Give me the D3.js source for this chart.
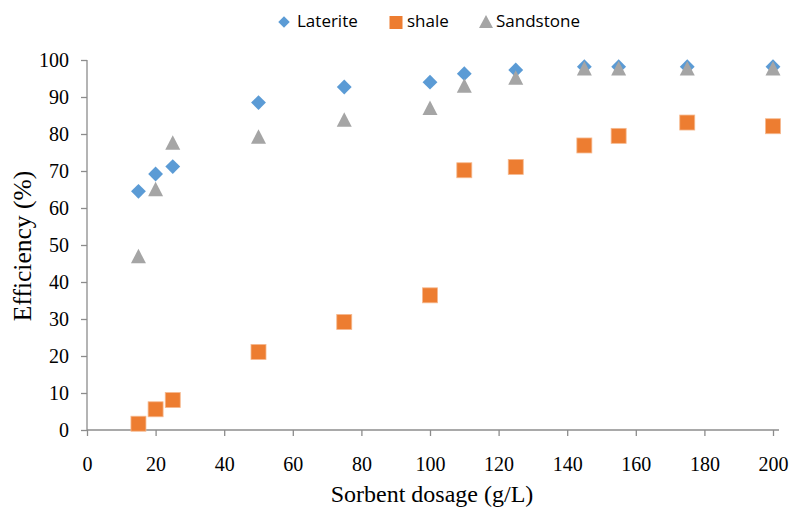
<!DOCTYPE html>
<html><head><meta charset="utf-8">
<script src="https://cdn.jsdelivr.net/npm/d3@7"></script>
<style>body{margin:0;background:#fff}</style>
</head><body>
<svg id="c" width="791" height="512"></svg>
<script>
const dosage = [15, 20, 25, 50, 75, 100, 110, 125, 145, 155, 175, 200];
const laterite = [64.5, 69.2, 71.2, 88.5, 92.7, 94.0, 96.3, 97.3, 98.2, 98.2, 98.2, 98.2];
const shale = [1.7, 5.6, 8.1, 21.1, 29.2, 36.4, 70.2, 71.1, 76.9, 79.5, 83.1, 82.1];
const sandstone = [46.8, 64.9, 77.5, 79.1, 83.7, 86.9, 92.9, 95.1, 97.6, 97.6, 97.6, 97.6];
const xTicks = [0, 20, 40, 60, 80, 100, 120, 140, 160, 180, 200];
const yTicks = [0, 10, 20, 30, 40, 50, 60, 70, 80, 90, 100];
const seriesNames = ["Laterite", "shale", "Sandstone"];
const colors = ["#5B9BD5", "#ED7D31", "#A5A5A5"];

const svg = d3.select("#c");
const x = d3.scaleLinear().domain([0, 200]).range([87, 773]);
const y = d3.scaleLinear().domain([0, 100]).range([430, 60]);
const axisColor = "#8c8c8c";
const serif = "Liberation Serif, Times New Roman, serif";

const xa = svg.append("g").attr("transform", "translate(0,430)")
  .call(d3.axisBottom(x).tickValues(xTicks).tickSize(6));
const ya = svg.append("g").attr("transform", "translate(87,0)")
  .call(d3.axisLeft(y).tickValues(yTicks).tickSize(6).tickPadding(12));
[xa, ya].forEach(a => {
  a.selectAll("path").attr("stroke", axisColor).attr("stroke-width", 1.3);
  a.selectAll("line").attr("stroke", axisColor).attr("stroke-width", 1.3);
  a.selectAll("text").attr("font-family", serif).attr("font-size", 20).attr("fill", "#000");
});
xa.selectAll("text").attr("dy", null).attr("y", 41);
ya.selectAll("text").attr("x", -18);
xa.select("path").attr("d", "M87,0H779");
ya.select("path").attr("d", "M0,430V60");

svg.append("text").attr("x", 432).attr("y", 502).attr("text-anchor", "middle")
  .attr("font-family", serif).attr("font-size", 24)
  .text("Sorbent dosage (g/L)");
svg.append("text").attr("transform", "translate(31,246) rotate(-90)").attr("text-anchor", "middle")
  .attr("font-family", serif).attr("font-size", 25.5)
  .text("Efficiency (%)");

const symDiamond = d3.symbol().type(d3.symbolSquare).size(110);
function drawSeries(vals, idx) {
  const g = svg.append("g");
  vals.forEach((v, i) => {
    const cx = x(dosage[i]), cy = y(v);
    if (idx === 0) {
      g.append("path").attr("d", symDiamond()).attr("fill", colors[0])
        .attr("transform", `translate(${cx},${cy}) rotate(45)`);
    } else if (idx === 1) {
      g.append("rect").attr("x", cx - 7.5).attr("y", cy - 7.5).attr("width", 15).attr("height", 15)
        .attr("fill", colors[1]).attr("stroke", "#f6b98f").attr("stroke-width", 0.8);
    } else {
      g.append("path").attr("d", `M${cx},${cy - 8}L${cx + 7.5},${cy + 6.5}L${cx - 7.5},${cy + 6.5}Z`)
        .attr("fill", colors[2]);
    }
  });
}
drawSeries(laterite, 0);
drawSeries(shale, 1);
drawSeries(sandstone, 2);

// legend
const lg = svg.append("g");
const legX = [284, 396, 486];
const legTextOff = [13, 11, 10];
seriesNames.forEach((n, i) => {
  const cx = legX[i], cy = 22;
  if (i === 0) lg.append("path").attr("d", d3.symbol().type(d3.symbolSquare).size(66)())
    .attr("fill", colors[0]).attr("transform", `translate(${cx},${cy}) rotate(45)`);
  else if (i === 1) lg.append("rect").attr("x", cx - 6.5).attr("y", cy - 6).attr("width", 13).attr("height", 13).attr("fill", colors[1]);
  else lg.append("path").attr("d", `M${cx},${cy - 7}L${cx + 7},${cy + 6}L${cx - 7},${cy + 6}Z`).attr("fill", colors[2]);
  lg.append("text").attr("x", cx + legTextOff[i]).attr("y", 27)
    .attr("font-family", "Open Sans, Liberation Sans, sans-serif").attr("font-size", 17).attr("fill", "#000")
    .text(n);
});
</script>
</body></html>
